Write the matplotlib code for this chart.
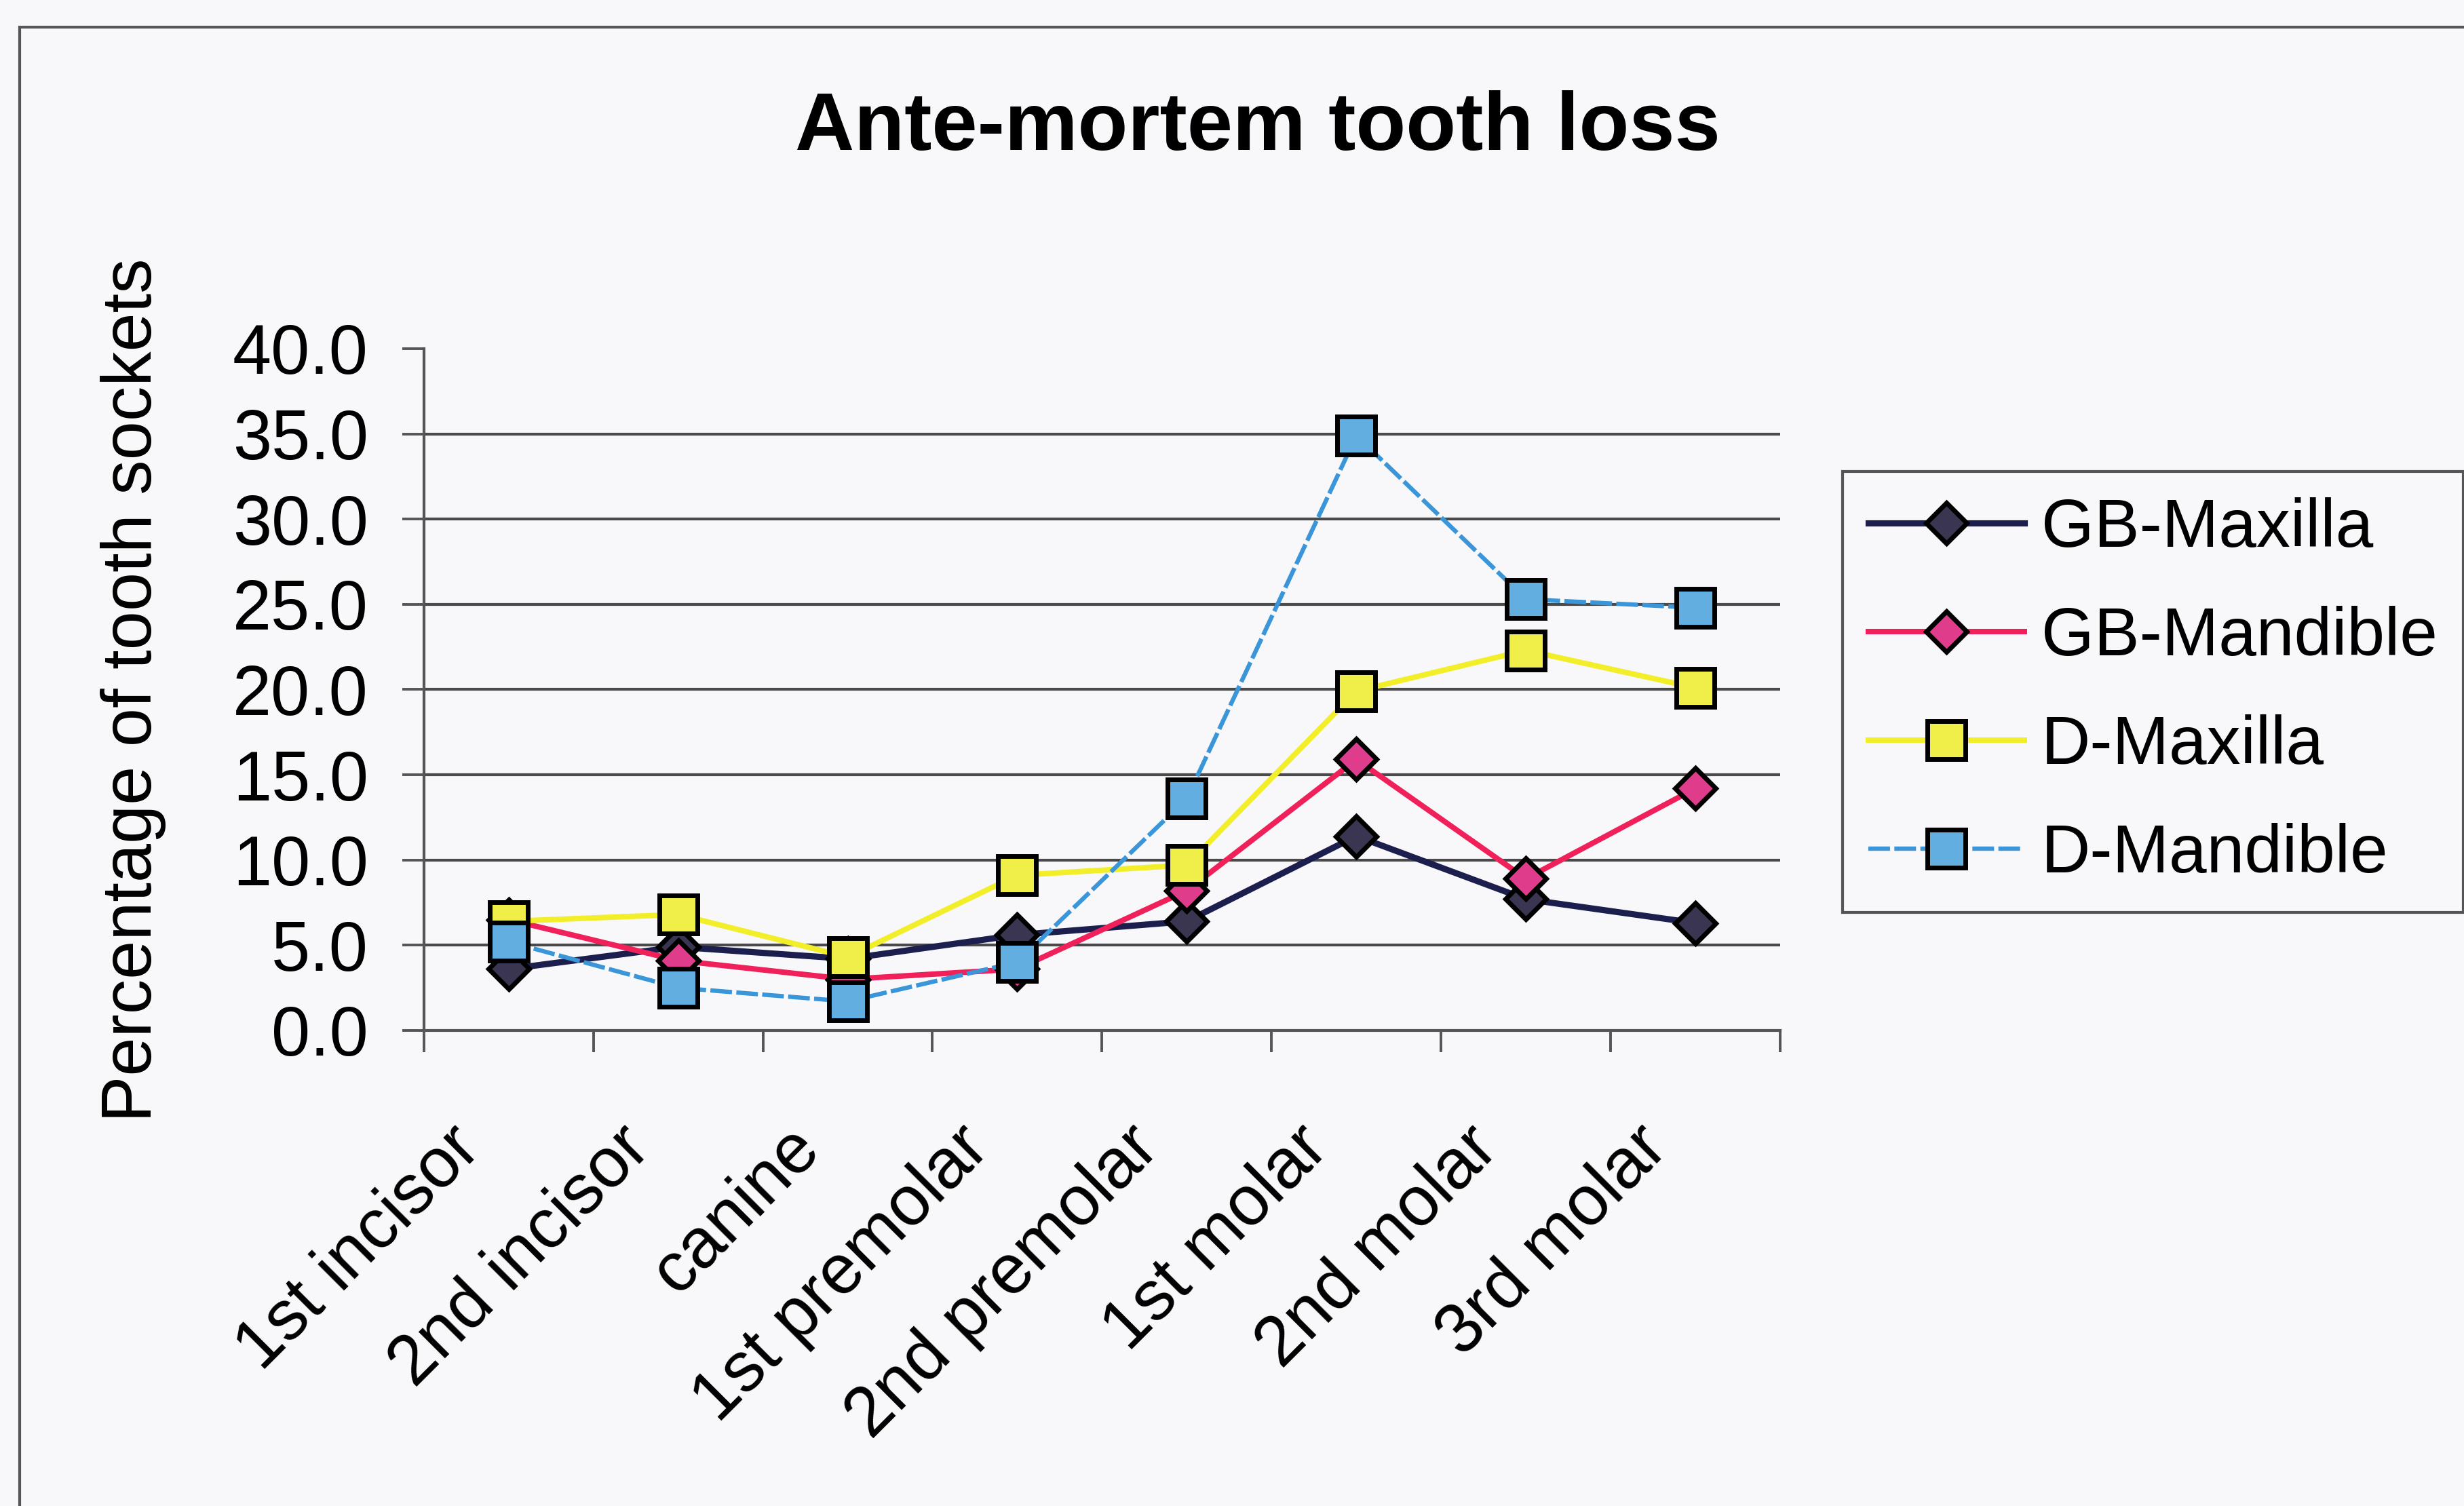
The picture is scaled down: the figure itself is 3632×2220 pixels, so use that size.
import matplotlib
matplotlib.use("Agg")
import matplotlib.pyplot as plt
import matplotlib.patches as patches
from matplotlib.transforms import ScaledTranslation

plt.rcParams['font.family'] = ['Liberation Sans', 'DejaVu Sans']

teeth = ['1st incisor', '2nd incisor', 'canine', '1st premolar',
         '2nd premolar', '1st molar', '2nd molar', '3rd molar']
gb_maxilla = [3.6, 4.9, 4.2, 5.6, 6.4, 11.4, 7.7, 6.3]
gb_mandible = [6.5, 4.1, 3.0, 3.6, 8.2, 15.9, 8.9, 14.2]
d_maxilla = [6.4, 6.8, 4.3, 9.1, 9.7, 19.9, 22.3, 20.1]
d_mandible = [5.2, 2.5, 1.7, 4.0, 13.6, 34.9, 25.3, 24.8]
yticks = [0, 5, 10, 15, 20, 25, 30, 35, 40]

bg = '#f8f8fa'
fig = plt.figure(figsize=(18.16, 11.1), dpi=200, facecolor=bg)
ax = fig.add_axes([0.172, 0.3158, 0.5505, 0.4527], facecolor=bg)

x = list(range(len(teeth)))
ax.plot(x, gb_maxilla, color='#1c1f4d', lw=3.3, marker='D', ms=15.5,
        mfc='#3a3550', mec='black', mew=2.5, label='GB-Maxilla')
ax.plot(x, gb_mandible, color='#f0205a', lw=2.9, marker='D', ms=15.5,
        mfc='#e03c8c', mec='black', mew=2.5, label='GB-Mandible')
ax.plot(x, d_maxilla, color='#f2ee2a', lw=2.9, marker='s', ms=20,
        mfc='#f0ef4a', mec='black', mew=2.5, label='D-Maxilla')
ax.plot(x, d_mandible, color='#3a96d8', lw=2.3, ls=(0, (5, 1)), marker='s', ms=20,
        mfc='#62aee0', mec='black', mew=2.5, label='D-Mandible')

ax.set_xlim(-0.5, len(teeth) - 0.5)
ax.set_ylim(0, 40)
ax.set_yticks(yticks)
ax.set_yticklabels(['%.1f' % v for v in yticks], fontsize=37)
ax.tick_params(axis='y', length=11.5, width=1.4, color='#555555', pad=18)

# tick marks sit between categories, labels sit on the categories
ax.set_xticks([i - 0.5 for i in range(len(teeth) + 1)])
ax.set_xticklabels([])
ax.tick_params(axis='x', which='major', length=11.5, width=1.4, color='#555555')
ax.set_xticks(x, minor=True)
ax.set_xticklabels(teeth, minor=True, fontsize=37, rotation=45,
                   ha='right', va='center', rotation_mode='anchor')
ax.tick_params(axis='x', which='minor', length=0, pad=57)
shift = ScaledTranslation(-0.28, 0, fig.dpi_scale_trans)
for lab in ax.get_xticklabels(minor=True):
    lab.set_transform(lab.get_transform() + shift)

ax.yaxis.grid(True, color='#4a4a4a', lw=1.5)
ax.get_ygridlines()[-1].set_visible(False)
ax.get_ygridlines()[0].set_visible(False)
ax.set_axisbelow(True)
for s in ['top', 'right']:
    ax.spines[s].set_visible(False)
for s in ['left', 'bottom']:
    ax.spines[s].set_color('#555555')
    ax.spines[s].set_linewidth(1.5)

fig.text(0.0542, 0.542, 'Percentage of tooth sockets', rotation=90,
         ha='center', va='center', fontsize=37)
fig.text(0.5105, 0.9145, 'Ante-mortem tooth loss', ha='center', va='center',
         fontsize=43.5, fontweight='bold')

leg = ax.legend(loc='upper left', bbox_to_anchor=(0.7478, 0.687),
                bbox_transform=fig.transFigure, borderaxespad=0, fontsize=36,
                handlelength=2.3, handletextpad=0.25, borderpad=0.38,
                labelspacing=0.66, fancybox=False, framealpha=1)
leg.get_frame().set_facecolor(bg)
leg.get_frame().set_edgecolor('#555555')
leg.get_frame().set_linewidth(1.5)

# outer chart-area frame, running off the right and bottom edges
border = patches.Rectangle((0.008, -0.05), 1.2, 1.032, transform=fig.transFigure,
                           fill=False, edgecolor='#555555', lw=1.5)
fig.patches.append(border)

fig.savefig('out.png', dpi=200, facecolor=bg)
